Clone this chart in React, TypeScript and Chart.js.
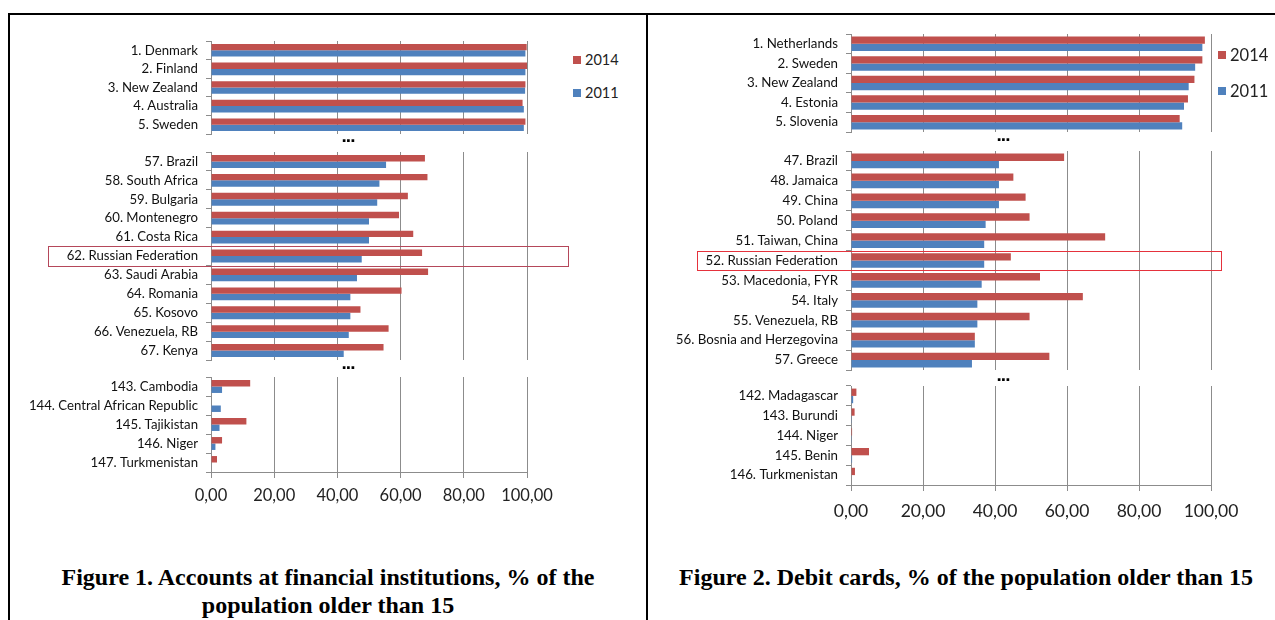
import React, { useEffect, useRef } from "react";
import { Chart, registerables } from "chart.js";
Chart.register(...registerables);

const RED = "#C0504D";
const BLUE = "#4F81BD";
const GRID = "#8c8c8c";

// ---------- Figure 1: Accounts at financial institutions ----------
const f1TopLabels = ["1. Denmark", "2. Finland", "3. New Zealand", "4. Australia", "5. Sweden"];
const f1Top2014 = [99.9, 100, 99.5, 98.6, 99.5];
const f1Top2011 = [99.5, 99.5, 99.4, 99.0, 99.0];

const f1MidLabels = [
  "57. Brazil", "58. South Africa", "59. Bulgaria", "60. Montenegro", "61. Costa Rica",
  "62. Russian Federation", "63. Saudi Arabia", "64. Romania", "65. Kosovo",
  "66. Venezuela, RB", "67. Kenya",
];
const f1Mid2014 = [67.7, 68.5, 62.3, 59.5, 64.0, 66.8, 68.7, 60.3, 47.3, 56.2, 54.6];
const f1Mid2011 = [55.4, 53.3, 52.6, 50.0, 50.0, 47.7, 46.2, 44.1, 44.1, 43.6, 42.0];

const f1BotLabels = ["143. Cambodia", "144. Central African Republic", "145. Tajikistan", "146. Niger", "147. Turkmenistan"];
const f1Bot2014 = [12.4, null, 11.2, 3.5, 1.9];
const f1Bot2011 = [3.5, 3.1, 2.7, 1.4, null];

// ---------- Figure 2: Debit cards ----------
const f2TopLabels = ["1. Netherlands", "2. Sweden", "3. New Zealand", "4. Estonia", "5. Slovenia"];
const f2Top2014 = [98.3, 97.6, 95.4, 93.6, 91.3];
const f2Top2011 = [97.6, 95.6, 93.8, 92.5, 92.0];

const f2MidLabels = [
  "47. Brazil", "48. Jamaica", "49. China", "50. Poland", "51. Taiwan, China",
  "52. Russian Federation", "53. Macedonia, FYR", "54. Italy", "55. Venezuela, RB",
  "56. Bosnia and Herzegovina", "57. Greece",
];
const f2Mid2014 = [59.2, 45.1, 48.5, 49.6, 70.6, 44.4, 52.5, 64.4, 49.6, 34.4, 55.1];
const f2Mid2011 = [41.1, 41.1, 41.1, 37.4, 37.0, 37.0, 36.3, 35.1, 35.1, 34.4, 33.6];

const f2BotLabels = ["142. Madagascar", "143. Burundi", "144. Niger", "145. Benin", "146. Turkmenistan"];
const f2Bot2014 = [1.5, 1.0, 0.3, 5.0, 1.1];
const f2Bot2011 = [0.6, 0.2, 0.2, 0.3, null];

const xTickLabels = ["0,00", "20,00", "40,00", "60,00", "80,00", "100,00"];
const seriesNames = ["2014", "2011"];

type PanelProps = {
  left: number; top: number; width: number; height: number;
  labels: string[]; d14: (number | null)[]; d11: (number | null)[];
  yW: number; showX: boolean; cat: number; tickFont: number; tickPad: number; labelFont: number;
};

function Panel(p: PanelProps) {
  const ref = useRef<HTMLCanvasElement>(null);
  useEffect(() => {
    const chart = new Chart(ref.current as HTMLCanvasElement, {
      type: "bar",
      data: {
        labels: p.labels,
        datasets: [
          { label: seriesNames[0], data: p.d14 as any, backgroundColor: RED, categoryPercentage: p.cat, barPercentage: 1 },
          { label: seriesNames[1], data: p.d11 as any, backgroundColor: BLUE, categoryPercentage: p.cat, barPercentage: 1 },
        ],
      },
      options: {
        indexAxis: "y",
        responsive: false,
        animation: false,
        devicePixelRatio: 1,
        layout: { padding: { left: 0, right: 40, top: 20, bottom: p.showX ? 0 : 20 } },
        plugins: { legend: { display: false }, tooltip: { enabled: false } },
        scales: {
          x: {
            min: 0,
            max: 100,
            ticks: {
              display: p.showX,
              stepSize: 20,
              maxRotation: 0,
              padding: p.tickPad,
              color: "#222",
              font: { family: "Lato", size: p.tickFont },
              callback: (_v: any, i: number) => xTickLabels[i],
            },
            grid: { color: GRID, drawTicks: p.showX, tickLength: 6 },
            border: { display: p.showX, color: GRID },
            afterFit: p.showX ? (s: any) => { s.height = 40; } : undefined,
          },
          y: {
            ticks: { autoSkip: false, padding: 8, color: "#111", font: { family: "Lato", size: p.labelFont } },
            grid: { drawOnChartArea: false, offset: true, tickLength: 5, color: GRID },
            border: { color: GRID },
            afterFit: (s: any) => { s.width = p.yW; },
          },
        },
      },
    });
    return () => chart.destroy();
  }, []);
  return (
    <canvas
      ref={ref}
      width={p.width}
      height={p.height}
      style={{ position: "absolute", left: p.left, top: p.top, width: p.width, height: p.height }}
    />
  );
}

function Dots({ x, y }: { x: number; y: number }) {
  return (
    <div style={{ position: "absolute", left: x - 20, top: y - 14, width: 40, textAlign: "center", font: "bold 19px Arial, 'Liberation Sans'", lineHeight: "18px", color: "#000", letterSpacing: "-1px" }}>...</div>
  );
}

function LegendItem({ x, y, color, text, size, sq }: { x: number; y: number; color: string; text: string; size: number; sq: number }) {
  return (
    <div style={{ position: "absolute", left: x, top: y - 10, height: 20, display: "flex", alignItems: "center" }}>
      <div style={{ width: sq, height: sq, background: color, marginRight: 4 }} />
      <span style={{ fontFamily: "Lato", fontSize: size, color: "#222", lineHeight: "20px" }}>{text}</span>
    </div>
  );
}

const captionStyle: React.CSSProperties = {
  position: "absolute",
  top: 563,
  width: 636,
  textAlign: "center",
  fontFamily: "'Liberation Serif', 'Times New Roman', serif",
  fontWeight: "bold",
  fontSize: 24,
  lineHeight: "28px",
  color: "#000",
};

export default function App() {
  return (
    <div style={{ position: "absolute", left: 0, top: 0, width: 1275, height: 620, background: "#fff", overflow: "hidden" }}>
      {/* frame */}
      <div style={{ position: "absolute", left: 8, top: 13, width: 1267, height: 2, background: "#000" }} />
      <div style={{ position: "absolute", left: 8, top: 13, width: 2, height: 607, background: "#000" }} />
      <div style={{ position: "absolute", left: 646, top: 13, width: 2, height: 607, background: "#000" }} />

      {/* Figure 1 */}
      <Panel left={20} top={21} width={547} height={133} labels={f1TopLabels} d14={f1Top2014} d11={f1Top2011} yW={191} showX={false} cat={0.68} tickFont={16.5} tickPad={9} labelFont={13.2} />
      <Panel left={20} top={132} width={547} height={248} labels={f1MidLabels} d14={f1Mid2014} d11={f1Mid2011} yW={191} showX={false} cat={0.68} tickFont={16.5} tickPad={9} labelFont={13.2} />
      <Panel left={20} top={357} width={547} height={155} labels={f1BotLabels} d14={f1Bot2014} d11={f1Bot2011} yW={191} showX={true} cat={0.68} tickFont={16.5} tickPad={8} labelFont={13.2} />
      <Dots x={348} y={141} />
      <Dots x={348} y={368} />
      <div style={{ position: "absolute", left: 48, top: 246, width: 521, height: 21, border: "1px solid #B5475A", boxSizing: "border-box" }} />
      <LegendItem x={573} y={60} color={RED} text={seriesNames[0]} size={14.5} sq={8} />
      <LegendItem x={573} y={93} color={BLUE} text={seriesNames[1]} size={14.5} sq={8} />
      <div style={{ ...captionStyle, left: 10 }}>
        Figure 1. Accounts at financial institutions, % of the<br />population older than 15
      </div>

      {/* Figure 2 */}
      <Panel left={660} top={14} width={591} height={138} labels={f2TopLabels} d14={f2Top2014} d11={f2Top2011} yW={191} showX={false} cat={0.74} tickFont={17.5} tickPad={10} labelFont={13.3} />
      <Panel left={660} top={131} width={591} height={259} labels={f2MidLabels} d14={f2Mid2014} d11={f2Mid2011} yW={191} showX={false} cat={0.74} tickFont={17.5} tickPad={10} labelFont={13.3} />
      <Panel left={660} top={366} width={591} height={159} labels={f2BotLabels} d14={f2Bot2014} d11={f2Bot2011} yW={191} showX={true} cat={0.74} tickFont={17.5} tickPad={10} labelFont={13.3} />
      <Dots x={1003} y={140} />
      <Dots x={1003} y={380} />
      <div style={{ position: "absolute", left: 697, top: 251, width: 525, height: 20, border: "1px solid #E5323C", boxSizing: "border-box" }} />
      <LegendItem x={1218} y={55} color={RED} text={seriesNames[0]} size={16.5} sq={8} />
      <LegendItem x={1218} y={91} color={BLUE} text={seriesNames[1]} size={16.5} sq={8} />
      <div style={{ ...captionStyle, left: 648 }}>
        Figure 2. Debit cards, % of the population older than 15
      </div>
    </div>
  );
}
